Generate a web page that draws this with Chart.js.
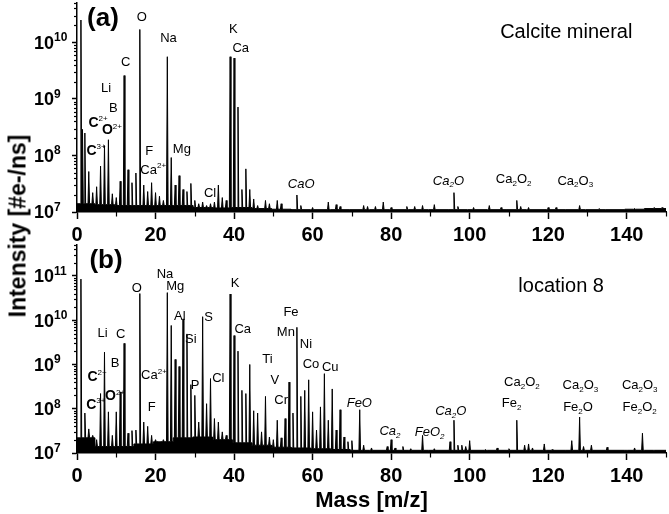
<!DOCTYPE html>
<html><head><meta charset="utf-8">
<script src="https://cdn.jsdelivr.net/npm/chart.js@4.4.1/dist/chart.umd.min.js"></script>
<style>
html,body{margin:0;padding:0;background:#fff;width:669px;height:514px;overflow:hidden;position:relative;font-family:"Liberation Sans",Arial,sans-serif}
canvas{position:absolute;left:0}
#ca{top:0}
#cb{top:243px}
#ytitle{position:absolute;left:18px;top:226px;transform:translate(-50%,-50%) rotate(-90deg);font-weight:bold;font-size:23px;white-space:nowrap;color:#000}
</style></head><body>
<canvas id="ca" width="669" height="245" style="width:669px;height:245px"></canvas>
<canvas id="cb" width="669" height="271" style="width:669px;height:271px"></canvas>
<div id="ytitle">Intensity [#e-/ns]</div>
<script>
// ---------- data ----------
const massTicks = [0, 20, 40, 60, 80, 100, 120, 140];
const yTickLabelsA = {7: '10^{7}', 8: '10^{8}', 9: '10^{9}', 10: '10^{10}'};
const yTickLabelsB = {7: '10^{7}', 8: '10^{8}', 9: '10^{9}', 10: '10^{10}', 11: '10^{11}'};

// panel (a): Calcite mineral — peak masses and intensities
const peakMassA = [1, 1.4, 2, 3, 4, 5, 6, 7, 8, 9, 10, 11, 12, 13, 14, 15, 16, 17, 18, 19, 20, 21, 22, 23, 24, 25, 26, 27, 28, 29, 30, 31, 32, 33, 34, 35, 36, 37, 38, 39, 40, 41, 42, 43, 44, 45, 46, 48, 49, 51, 52, 56, 57, 60, 64, 66, 67, 73, 74, 76, 78, 80, 84, 86, 88, 91, 96, 97, 101, 105, 108, 112, 113, 115, 120, 122, 128, 133, 142, 147, 149];
const peakIntA  = [2.5e10, 2.9e8, 2.5e8, 5.2e7, 2.2e7, 2.8e7, 6.5e7, 1.5e8, 1.9e8, 2.1e7, 1.8e7, 3.5e7, 2.6e9, 5.6e7, 3.3e7, 4.9e7, 1.7e10, 3.0e7, 2.3e7, 3.3e7, 2.2e7, 1.9e7, 1.6e7, 5.6e9, 9.2e7, 3.0e7, 4.4e7, 2.5e7, 2.3e7, 3.2e7, 1.6e7, 1.4e7, 1.5e7, 1.3e7, 1.4e7, 1.5e7, 3.0e7, 1.8e7, 1.6e7, 5.6e9, 5.3e9, 7.2e8, 2.5e7, 5.8e7, 2.5e7, 1.7e7, 1.3e7, 1.6e7, 1.4e7, 1.6e7, 1.4e7, 2.0e7, 1.3e7, 1.2e7, 1.5e7, 1.35e7, 1.25e7, 1.3e7, 1.25e7, 1.25e7, 1.5e7, 1.2e7, 1.25e7, 1.25e7, 1.3e7, 1.35e7, 2.2e7, 1.25e7, 1.2e7, 1.3e7, 1.2e7, 1.6e7, 1.25e7, 1.2e7, 1.2e7, 1.2e7, 1.3e7, 1.15e7, 1.15e7, 1.2e7, 1.2e7];
// noise floor of panel (a), one value per 5 m/z bin
const noiseA = [1.4e7, 1.35e7, 1.3e7, 1.3e7, 1.3e7, 1.3e7, 1.2e7, 1.18e7, 1.2e7, 1.15e7, 1.12e7, 1.1e7, 1.1e7, 1.1e7, 1.1e7, 1.1e7, 1.1e7, 1.1e7, 1.1e7, 1.1e7, 1.1e7, 1.1e7, 1.1e7, 1.1e7, 1.1e7, 1.1e7, 1.1e7, 1.1e7, 1.12e7, 1.15e7];

// panel (b): location 8
const peakMassB = [1, 2, 3, 4, 5, 6, 7, 8, 9, 10, 11, 12, 13, 14, 15, 16, 17, 18, 19, 20, 21, 22, 23, 24, 25, 26, 27, 28, 29, 30, 31, 32, 33, 34, 35, 36, 37, 38, 39, 40, 41, 42, 43, 44, 45, 46, 47, 48, 49, 50, 51, 52, 53, 54, 55, 56, 57, 58, 59, 60, 61, 62, 63, 64, 65, 66, 67, 68, 69, 70, 72, 73, 75, 79, 80, 81, 83, 85, 88, 91, 95, 96, 97, 98, 99, 100, 104, 107, 110, 112, 114, 115, 116, 119, 121, 126, 128, 129, 131, 135, 140, 142, 144, 147];
const peakIntB  = [8.5e10, 8e7, 3.5e7, 2.5e7, 2e7, 2.2e8, 1.9e9, 8.5e7, 2.5e7, 8.5e7, 2.4e8, 3e9, 2.8e7, 3.2e7, 3.3e7, 4e10, 5e7, 4e7, 2.5e7, 2e7, 1.8e7, 2e7, 4.2e10, 7.6e9, 1.3e9, 9e8, 1.07e10, 4.9e9, 3.5e8, 2e8, 5e7, 1.2e10, 1.3e8, 4.8e8, 6e7, 5e7, 3e7, 2.5e7, 3.9e10, 4.5e9, 2e9, 2.6e8, 2.2e8, 1e9, 9e7, 8e7, 3e7, 1.9e8, 2.3e7, 2e7, 5.5e7, 2.2e7, 6e7, 4e8, 8e7, 6.9e9, 1.9e8, 2.6e8, 4.5e8, 8.5e7, 3.3e7, 1.1e8, 6.2e8, 5.5e7, 2.8e8, 3.3e7, 9.5e7, 2.3e7, 1.8e7, 1.9e7, 9.5e7, 1.5e7, 1.3e7, 1.4e7, 2e7, 1.3e7, 1.4e7, 1.25e7, 2.5e7, 1.25e7, 1.8e7, 5.5e7, 1.5e7, 1.5e7, 1.4e7, 1.9e7, 1.2e7, 1.3e7, 1.25e7, 5.5e7, 1.5e7, 1.6e7, 1.3e7, 1.6e7, 1.2e7, 1.9e7, 6.5e7, 1.4e7, 1.5e7, 1.35e7, 1.15e7, 1.3e7, 2.8e7, 1.15e7];
const noiseB = [2.2e7, 1.4e7, 1.4e7, 1.6e7, 1.8e7, 2.2e7, 2.3e7, 2.0e7, 1.7e7, 1.5e7, 1.35e7, 1.3e7, 1.25e7, 1.2e7, 1.15e7, 1.15e7, 1.15e7, 1.15e7, 1.15e7, 1.15e7, 1.15e7, 1.15e7, 1.15e7, 1.15e7, 1.15e7, 1.15e7, 1.15e7, 1.15e7, 1.15e7, 1.15e7];

// peak annotations: text, mass, intensity, font kind
const labelTextA = ['O', 'Na', 'K', 'Ca', 'C', 'Li', 'B', 'C^{2+}', 'O^{2+}', 'C^{3+}', 'F', 'Ca^{2+}', 'Mg', 'Cl', 'CaO', 'Ca_2O', 'Ca_2O_2', 'Ca_2O_3', 'Calcite mineral', '(a)'];
const labelMassA = [16.5, 23.3, 39.8, 41.7, 12.4, 7.4, 9.25, 5.35, 8.9, 4.85, 18.4, 19.4, 26.7, 33.9, 57.1, 94.6, 111.2, 126.9, 124.6, 6.6];
const labelIntA  = [2.95e10, 1.22e10, 1.8e10, 8.1e9, 4.7e9, 1.6e9, 7.2e8, 4e8, 2.9e8, 1.26e8, 1.23e8, 5.8e7, 1.35e8, 2.2e7, 3.2e7, 3.7e7, 3.9e7, 3.7e7, 1.64e10, 2.85e10];
const labelKindA = ['n', 'n', 'n', 'n', 'n', 'n', 'n', 'b', 'b', 'b', 'n', 'n', 'n', 'n', 'i', 'i', 'n', 'n', 'L', 'P'];

const labelTextB = ['Na', 'Mg', 'O', 'K', 'Al', 'S', 'Si', 'Li', 'C', 'B', 'C^{2+}', 'Ca^{2+}', 'P', 'Cl', 'O^{2+}', 'C^{3+}', 'F', 'Ca', 'Fe', 'Mn', 'Ni', 'Ti', 'Co', 'Cu', 'V', 'Cr', 'FeO', 'Ca_2', 'FeO_2', 'Ca_2O', 'Ca_2O_2', 'Fe_2', 'Ca_2O_3', 'Fe_2O', 'Ca_2O_3', 'Fe_2O_2', 'location 8', '(b)'];
const labelMassB = [22.4, 25, 15.2, 40.25, 26.2, 33.5, 29, 6.5, 11.1, 9.7, 5.1, 19.6, 30.1, 36, 9.7, 4.8, 19, 42.2, 54.5, 53.2, 58.3, 48.5, 59.6, 64.5, 50.4, 52, 71.9, 79.7, 89.8, 95.2, 113.3, 110.7, 128.2, 127.6, 143.3, 143.3, 123.3, 7.4];
const labelIntB  = [1.17e11, 6.3e10, 5.5e10, 7.1e10, 1.26e10, 1.2e10, 3.8e9, 5.4e9, 5e9, 1.12e9, 5.4e8, 6e8, 3.5e8, 5e8, 2e8, 1.26e8, 1.15e8, 6.6e9, 1.58e10, 5.6e9, 3e9, 1.35e9, 1.07e9, 9.1e8, 4.6e8, 1.6e8, 1.4e8, 3.3e7, 3.1e7, 9.3e7, 4.2e8, 1.4e8, 3.5e8, 1.15e8, 3.5e8, 1.15e8, 6.3e10, 2.4e11];
const labelKindB = ['n', 'n', 'n', 'n', 'n', 'n', 'n', 'n', 'n', 'n', 'b', 'n', 'n', 'n', 'b', 'b', 'n', 'n', 'n', 'n', 'n', 'n', 'n', 'n', 'n', 'n', 'i', 'i', 'i', 'i', 'n', 'n', 'n', 'n', 'n', 'n', 'L', 'P'];

// ---------- helpers ----------
const FAM = '"Liberation Sans", Arial, Helvetica, sans-serif';
const HALF = 0.2;
function buildSpectrum(masses, ints, noise) {
  const base = m => noise[Math.max(0, Math.min(noise.length - 1, Math.floor((m + 0.5) / 5)))];
  const ev = [];
  for (let b = 1; b < noise.length; b++) ev.push({x: b * 5 - 0.5, bin: true});
  masses.forEach((m, i) => ev.push({x: m, v: ints[i]}));
  ev.sort((a, b) => a.x - b.x);
  const pts = [{x: 0, y: base(0)}];
  for (const e of ev) {
    if (e.bin) { pts.push({x: e.x, y: base(e.x - 0.01)}); pts.push({x: e.x, y: base(e.x + 0.01)}); }
    else { const bl = base(e.x); pts.push({x: e.x - HALF, y: bl}); pts.push({x: e.x, y: e.v}); pts.push({x: e.x + HALF, y: bl}); }
  }
  pts.push({x: 150, y: base(149.9)});
  return pts;
}

const KIND = {
  n: {size: 13, weight: 'normal', style: 'normal', supW: 'normal', r: 0.6},
  i: {size: 13, weight: 'normal', style: 'italic', supW: 'normal', r: 0.6},
  b: {size: 14, weight: 'bold', style: 'normal', supW: 'normal', r: 0.6},
  L: {size: 20, weight: 'normal', style: 'normal', supW: 'normal', r: 0.6},
  P: {size: 26, weight: 'bold', style: 'normal', supW: 'normal', r: 0.6},
  T: {size: 18, weight: 'bold', style: 'normal', supW: 'bold', r: 0.64}
};
function drawRich(ctx, text, x, y, k, align) {
  const toks = []; const re = /_\{([^}]*)\}|_(\w)|\^\{([^}]*)\}|\^(\w)|([^_^]+)/g; let m;
  while ((m = re.exec(text))) {
    if (m[1] != null || m[2] != null) toks.push({s: m[1] ?? m[2], k: 'sub'});
    else if (m[3] != null || m[4] != null) toks.push({s: m[3] ?? m[4], k: 'sup'});
    else toks.push({s: m[5], k: 'n'});
  }
  const fontOf = t => t === 'n' ? `${k.style} ${k.weight} ${k.size}px ${FAM}` : `${k.style} ${k.supW} ${Math.round(k.size * k.r)}px ${FAM}`;
  let w = 0;
  toks.forEach(t => { ctx.font = fontOf(t.k); t.w = ctx.measureText(t.s).width; w += t.w; });
  let cx = align === 'left' ? x : x - w / 2;
  ctx.textAlign = 'left'; ctx.textBaseline = 'alphabetic'; ctx.fillStyle = '#000';
  const bl = y + k.size * 0.36;
  toks.forEach(t => {
    ctx.font = fontOf(t.k);
    const dy = t.k === 'sub' ? k.size * 0.22 : t.k === 'sup' ? -k.size * 0.42 : 0;
    ctx.fillText(t.s, cx, bl + dy); cx += t.w;
  });
}

const annotPlugin = {
  id: 'annot',
  afterDraw(chart, args, opts) {
    const ctx = chart.ctx, xs = chart.scales.x, ys = chart.scales.y;
    ctx.save();
    // minor ticks
    ctx.strokeStyle = '#000'; ctx.lineWidth = 1.2;
    const y0 = ys.bottom, x0 = xs.left;
    for (let v = 10; v <= 150; v += 20) {
      const px = Math.round(xs.getPixelForValue(v)) + 0.5;
      ctx.beginPath(); ctx.moveTo(px, y0); ctx.lineTo(px, y0 + 4.5); ctx.stroke();
    }
    for (let d = 7; d <= 12; d++) for (let k = 2; k <= 9; k++) {
      const v = k * Math.pow(10, d);
      if (v > ys.max) continue;
      const py = Math.round(ys.getPixelForValue(v)) + 0.5;
      ctx.beginPath(); ctx.moveTo(x0 - 3, py); ctx.lineTo(x0, py); ctx.stroke();
    }
    // y tick labels with superscript exponents
    ys.ticks.forEach(t => {
      const s = opts.yLabels[Math.round(Math.log10(t.value))];
      if (s) drawRich(ctx, s, 34, ys.getPixelForValue(t.value), KIND.T, 'left');
    });
    const L = opts.labels;
    L.text.forEach((t, i) => {
      drawRich(ctx, t, xs.getPixelForValue(L.mass[i]), ys.getPixelForValue(L.ints[i]), KIND[L.kind[i]], 'center');
    });
    ctx.restore();
  }
};

function makeChart(id, pts, yMax, yLabels, labels, xAxisH, padTop, withTitle) {
  return new Chart(document.getElementById(id), {
    type: 'line',
    data: {datasets: [{
      data: pts, parsing: false, borderColor: '#000', borderWidth: 1,
      backgroundColor: '#000', fill: 'start', pointRadius: 0, tension: 0
    }]},
    options: {
      responsive: false, animation: false, events: [],
      layout: {padding: {left: 33, right: 3, top: padTop, bottom: 0}},
      plugins: {legend: {display: false}, tooltip: {enabled: false}, annot: {labels, yLabels}},
      scales: {
        x: {
          type: 'linear', min: 0, max: 150,
          afterBuildTicks: s => { s.ticks = massTicks.map(v => ({value: v})); },
          afterFit: s => { s.height = xAxisH; s.paddingLeft = 0; s.paddingRight = 0; },
          ticks: {color: '#000', font: {family: FAM, size: 20, weight: 'bold'}, padding: 4, maxRotation: 0, autoSkip: false,
            callback: v => String(v)},
          grid: {drawOnChartArea: false, drawTicks: true, tickLength: 7, color: '#000', tickWidth: 1.5},
          border: {display: true, color: '#000', width: 1.5},
          title: withTitle ? {display: true, text: 'Mass [m/z]', color: '#000', font: {family: FAM, size: 22, weight: 'bold'}, padding: {top: 0, bottom: 0}} : {display: false}
        },
        y: {
          type: 'logarithmic', min: 1e7, max: yMax,
          afterBuildTicks: s => { const t = []; for (const e in yLabels) t.push({value: Math.pow(10, +e)}); s.ticks = t; },
          afterFit: s => { s.width = 44; s.paddingTop = 0; s.paddingBottom = 0; },
          ticks: {display: false},
          grid: {drawOnChartArea: false, drawTicks: true, tickLength: 5, color: '#000', tickWidth: 1.5},
          border: {display: true, color: '#000', width: 1.5}
        }
      }
    },
    plugins: [annotPlugin]
  });
}

makeChart('ca', buildSpectrum(peakMassA, peakIntA, noiseA), 5e10, yTickLabelsA,
  {text: labelTextA, mass: labelMassA, ints: labelIntA, kind: labelKindA}, 33, 3, false);
makeChart('cb', buildSpectrum(peakMassB, peakIntB, noiseB), 5e11, yTickLabelsB,
  {text: labelTextB, mass: labelMassB, ints: labelIntB, kind: labelKindB}, 61, 2, true);
</script>
</body></html>
